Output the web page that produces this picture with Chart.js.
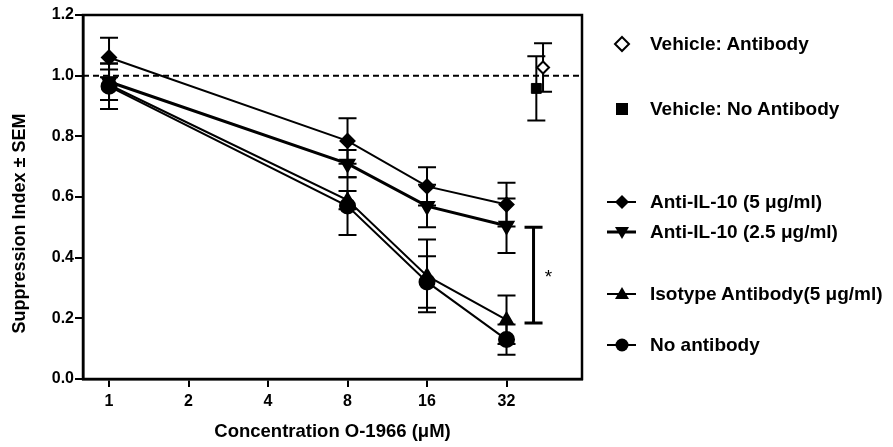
<!DOCTYPE html>
<html>
<head>
<meta charset="utf-8">
<script src="https://cdn.jsdelivr.net/npm/chart.js@4.4.1/dist/chart.umd.min.js"></script>
<style>
  body { margin: 0; background: #fff; }
  #wrap { position: relative; width: 893px; height: 447px; }
  #legend { position: absolute; left: 0; top: 0; font-family: "Liberation Sans", Arial, sans-serif; font-weight: bold; font-size: 19px; color: #000; }
  .item { position: absolute; left: 604px; height: 24px; white-space: nowrap; }
  .item svg { position: absolute; left: 0; top: 2px; }
  .item span { position: absolute; left: 46px; top: 0; line-height: 24px; }
</style>
</head>
<body>
<div id="wrap">
  <canvas id="suppChart" width="893" height="447"></canvas>
  <div id="legend"></div>
</div>
<script>
// concentrations (uM) and series values
var conc = [1, 8, 16, 32];
var xTicks = [1, 2, 4, 8, 16, 32];

var anti5 = [1.06, 0.785, 0.635, 0.575];
var anti5Err = [0.065, 0.075, 0.063, 0.072];

var anti25 = [0.98, 0.71, 0.57, 0.505];
var anti25Err = [0.06, 0.045, 0.07, 0.09];

var isotype = [0.97, 0.59, 0.34, 0.195];
var isotypeErr = [0.05, 0.03, 0.12, 0.08];

var noAb = [0.965, 0.57, 0.32, 0.13];
var noAbErr = [0.075, 0.095, 0.085, 0.05];

// vehicle controls (plotted to the right of 32)
var vehAbX = 44, vehAb = 1.027, vehAbErr = 0.08;
var vehNoAbX = 41.5, vehNoAb = 0.958, vehNoAbErr = 0.106;

// significance bracket
var sigX = 40.5, sigLow = 0.185, sigHigh = 0.5;

var yTitle = 'Suppression Index ± SEM';

function pts(xs, ys) {
    return xs.map(function (x, i) { return {x: x, y: ys[i]}; });
}

var errorBars = {
    id: 'errorBars',
    beforeDatasetsDraw: function (chart) {
        var c = chart.ctx, xs = chart.scales.x, ys = chart.scales.y;
        c.save();
        c.strokeStyle = '#000';
        c.lineWidth = 2;
        chart.data.datasets.forEach(function (ds) {
            if (!ds.err) return;
            ds.data.forEach(function (p, i) {
                var px = xs.getPixelForValue(p.x);
                var top = ys.getPixelForValue(p.y + ds.err[i]);
                var bot = ys.getPixelForValue(p.y - ds.err[i]);
                c.beginPath();
                c.moveTo(px, top); c.lineTo(px, bot);
                c.moveTo(px - 9, top); c.lineTo(px + 9, top);
                c.moveTo(px - 9, bot); c.lineTo(px + 9, bot);
                c.stroke();
            });
        });
        // dashed reference line at 1.0
        var y1 = ys.getPixelForValue(1.0);
        c.setLineDash([6, 4]);
        c.beginPath();
        c.moveTo(chart.chartArea.left, y1); c.lineTo(chart.chartArea.right, y1);
        c.stroke();
        c.restore();
    },
    afterDraw: function (chart) {
        var c = chart.ctx, xs = chart.scales.x, ys = chart.scales.y, a = chart.chartArea;
        c.save();
        c.strokeStyle = '#000';
        c.lineWidth = 2.5;
        c.strokeRect(a.left, a.top, a.right - a.left, a.bottom - a.top);
        // bracket + asterisk
        var bx = xs.getPixelForValue(sigX);
        var bt = ys.getPixelForValue(sigHigh), bb = ys.getPixelForValue(sigLow);
        c.lineWidth = 3;
        c.beginPath();
        c.moveTo(bx, bt); c.lineTo(bx, bb);
        c.moveTo(bx - 9, bt); c.lineTo(bx + 9, bt);
        c.moveTo(bx - 9, bb); c.lineTo(bx + 9, bb);
        c.stroke();
        c.fillStyle = '#000';
        c.font = '19px "Liberation Sans", Arial, sans-serif';
        c.textAlign = 'center';
        c.textBaseline = 'middle';
        c.fillText('*', bx + 15, ys.getPixelForValue(0.345) + 3);
        // y axis title, centred on the whole figure height like the original
        c.font = 'bold 18px "Liberation Sans", Arial, sans-serif';
        c.translate(20, chart.height / 2);
        c.rotate(-Math.PI / 2);
        c.fillText(yTitle, 0, 0);
        c.restore();
    }
};

var ctx = document.getElementById('suppChart').getContext('2d');
Chart.defaults.font.family = '"Liberation Sans", Arial, sans-serif';
Chart.defaults.color = '#000';

var suppChart = new Chart(ctx, {
    type: 'line',
    data: {
        datasets: [
            {label: 'Anti-IL-10 (5 μg/ml)', data: pts(conc, anti5), err: anti5Err,
             borderColor: '#000', backgroundColor: '#000', borderWidth: 2,
             pointStyle: 'rectRot', pointRadius: 7},
            {label: 'Anti-IL-10 (2.5 μg/ml)', data: pts(conc, anti25), err: anti25Err,
             borderColor: '#000', backgroundColor: '#000', borderWidth: 3,
             pointStyle: 'triangle', pointRotation: 180, pointRadius: 7},
            {label: 'Isotype Antibody(5 μg/ml)', data: pts(conc, isotype), err: isotypeErr,
             borderColor: '#000', backgroundColor: '#000', borderWidth: 2,
             pointStyle: 'triangle', pointRadius: 7},
            {label: 'No antibody', data: pts(conc, noAb), err: noAbErr,
             borderColor: '#000', backgroundColor: '#000', borderWidth: 2,
             pointStyle: 'circle', pointRadius: 7.5},
            {label: 'Vehicle: No Antibody', data: [{x: vehNoAbX, y: vehNoAb}], err: [vehNoAbErr],
             showLine: false, borderColor: '#000', backgroundColor: '#000', borderWidth: 1,
             pointStyle: 'rect', pointRadius: 7},
            {label: 'Vehicle: Antibody', data: [{x: vehAbX, y: vehAb}], err: [vehAbErr],
             showLine: false, borderColor: '#000', backgroundColor: '#fff', borderWidth: 2,
             pointStyle: 'rectRot', pointRadius: 6}
        ]
    },
    options: {
        responsive: false,
        animation: false,
        layout: {padding: {top: 15, right: 311, left: 0, bottom: 0}},
        plugins: {legend: {display: false}, tooltip: {enabled: false}},
        scales: {
            x: {
                type: 'logarithmic',
                min: 0.797, max: 61.8,
                afterBuildTicks: function (s) { s.ticks = xTicks.map(function (v) { return {value: v}; }); },
                afterFit: function (s) { s.height = 68; },
                ticks: {autoSkip: false, maxRotation: 0, padding: 5,
                        font: {size: 16, weight: 'bold'},
                        callback: function (v) { return String(v); }},
                grid: {drawOnChartArea: false, tickLength: 8, color: '#000', lineWidth: 2},
                border: {color: '#000', width: 2.5},
                title: {display: true, text: 'Concentration O-1966 (μM)',
                        font: {size: 18.5, weight: 'bold'}, padding: {top: 2}}
            },
            y: {
                min: 0, max: 1.2,
                afterFit: function (s) { s.width = 83; },
                ticks: {stepSize: 0.2, padding: 1, font: {size: 16, weight: 'bold'},
                        callback: function (v) { return v.toFixed(1); }},
                grid: {drawOnChartArea: false, tickLength: 8, color: '#000', lineWidth: 2},
                border: {color: '#000', width: 2.5}
            }
        }
    },
    plugins: [errorBars]
});

// legend on the right, uneven spacing as in the figure
var legendItems = [
    {label: 'Vehicle: Antibody', y: 44, marker: '<path d="M18 3 L25 10 L18 17 L11 10 Z" fill="#fff" stroke="#000" stroke-width="2"/>'},
    {label: 'Vehicle: No Antibody', y: 109, marker: '<rect x="12" y="4" width="12" height="12" fill="#000"/>'},
    {label: 'Anti-IL-10 (5 μg/ml)', y: 202, marker: '<line x1="3" y1="10" x2="32" y2="10" stroke="#000" stroke-width="2"/><path d="M18 3 L25 10 L18 17 L11 10 Z" fill="#000"/>'},
    {label: 'Anti-IL-10 (2.5 μg/ml)', y: 232, marker: '<line x1="3" y1="10" x2="32" y2="10" stroke="#000" stroke-width="3"/><path d="M11 5 L25 5 L18 17 Z" fill="#000"/>'},
    {label: 'Isotype Antibody(5 μg/ml)', y: 294, marker: '<line x1="3" y1="10" x2="32" y2="10" stroke="#000" stroke-width="2"/><path d="M11 15 L25 15 L18 3 Z" fill="#000"/>'},
    {label: 'No antibody', y: 345, marker: '<line x1="3" y1="10" x2="32" y2="10" stroke="#000" stroke-width="2"/><circle cx="18" cy="10" r="6.5" fill="#000"/>'}
];
var leg = document.getElementById('legend');
legendItems.forEach(function (it) {
    var d = document.createElement('div');
    d.className = 'item';
    d.style.top = (it.y - 12) + 'px';
    d.innerHTML = '<svg width="36" height="20">' + it.marker + '</svg><span>' + it.label + '</span>';
    leg.appendChild(d);
});
</script>
</body>
</html>
